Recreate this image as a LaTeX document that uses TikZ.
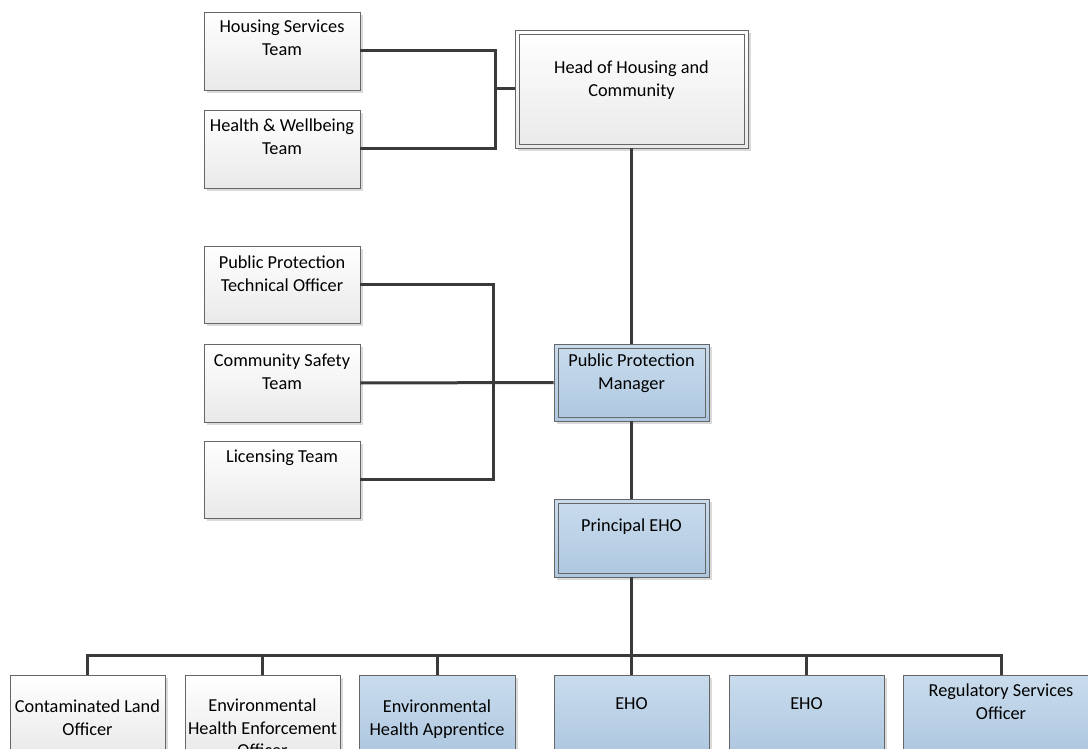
\documentclass[tikz,border=0pt]{standalone}
\usepackage{fontspec}
\setmainfont{Carlito}
\usetikzlibrary{shadows}
\definecolor{linec}{HTML}{3A3A3A}
\definecolor{bordc}{HTML}{666666}
\definecolor{bluetop}{RGB}{201,220,237}
\definecolor{bluebot}{RGB}{174,199,224}
\definecolor{greybot}{RGB}{233,233,233}
\definecolor{shadowc}{RGB}{218,218,218}
\begin{document}
\begin{tikzpicture}[x=1pt,y=-1pt,
  box/.style={draw=bordc, line width=0.9pt, rectangle, inner sep=0pt,
    drop shadow={shadow xshift=3pt, shadow yshift=-3pt, fill=shadowc, opacity=1}},
  wbox/.style={box, top color=white, bottom color=greybot},
  bbox/.style={box, top color=bluetop, bottom color=bluebot},
  dbl/.style={path picture={\draw[bordc, line width=0.9pt]
    ([shift={(4pt,4pt)}]path picture bounding box.south west) rectangle
    ([shift={(-4pt,-4pt)}]path picture bounding box.north east);}},
  sz/.style={minimum width=156pt, minimum height=78pt},
  txt/.style={anchor=north, inner sep=0pt, align=center,
    font=\fontsize{18.3}{22.5}\selectfont, text=black},
  conn/.style={draw=linec, line width=3pt},
]
\useasboundingbox (0,0) rectangle (1088,749);
\clip (0,0) rectangle (1088,749);
\fill[white] (0,0) rectangle (1088,749);

% boxes
\node[wbox, sz] (hs) at (282,51) {};
\node[wbox, sz] (hw) at (282,149) {};
\node[wbox, dbl, minimum width=233pt, minimum height=118pt] (head) at (631.5,89) {};
\node[wbox, sz, minimum height=77pt] (ppto) at (282,284.5) {};
\node[wbox, sz] (cs) at (282,383) {};
\node[wbox, sz, minimum height=77pt] (lic) at (282,479.5) {};
\node[bbox, dbl, sz, minimum width=155pt, minimum height=77pt] (ppm) at (631.5,382.5) {};
\node[bbox, dbl, sz, minimum width=155pt] (pe) at (631.5,538) {};
\node[wbox, sz, minimum width=155pt] (b1) at (87.5,714) {};
\node[wbox, sz, minimum width=155pt] (b2) at (262.5,714) {};
\node[bbox, sz, minimum width=156pt] (b3) at (437,714) {};
\node[bbox, sz, minimum width=155pt] (b4) at (631.5,714) {};
\node[bbox, sz, minimum width=155pt] (b5) at (806.5,714) {};
\node[bbox, sz, minimum width=196pt] (b6) at (1001,714) {};

% texts
\node[txt] (hs-t) at (282,20) {Housing Services\\Team};
\node[txt] (hw-t) at (282,119) {Health \& Wellbeing\\Team};
\node[txt] (head-t) at (631.5,61) {Head of Housing and\\Community};
\node[txt] (ppto-t) at (282,256) {Public Protection\\Technical Officer};
\node[txt] (cs-t) at (282,354) {Community Safety\\Team};
\node[txt] (lic-t) at (282,450) {Licensing Team};
\node[txt] (ppm-t) at (631.5,354) {Public Protection\\Manager};
\node[txt] (pe-t) at (631.5,519) {Principal EHO};
\node[txt] (b1-t) at (87.5,700) {Contaminated Land\\Officer};
\node[txt] (b2-t) at (262.5,699) {Environmental\\Health Enforcement\\Officer};
\node[txt] (b3-t) at (437,700) {Environmental\\Health Apprentice};
\node[txt] (b4-t) at (631.5,697) {EHO};
\node[txt] (b5-t) at (806.5,697) {EHO};
\node[txt] (b6-t) at (1001,684) {Regulatory Services\\Officer};

% connectors
\coordinate (j1) at (495,89);
\draw[conn] (hs.east) -| (j1) -- (head.west);
\draw[conn] (hw.east) -| (j1);
\draw[conn] (head.south) -- (ppm.north);
\coordinate (j2) at (493,383);
\draw[conn] (ppto.east) -| (j2) |- (lic.east);
\draw[conn] (cs.east) -- (ppm.west);
\draw[conn] (ppm.south) -- (pe.north);
\coordinate (bus) at (631.5,655);
\draw[conn] (pe.south) -- (bus);
\draw[conn] (b1.north) |- (bus) -| (b6.north);
\draw[conn] (b2.north) -- (b2.north |- bus);
\draw[conn] (b3.north) -- (b3.north |- bus);
\draw[conn] (b4.north) -- (b4.north |- bus);
\draw[conn] (b5.north) -- (b5.north |- bus);
\end{tikzpicture}
\end{document}
